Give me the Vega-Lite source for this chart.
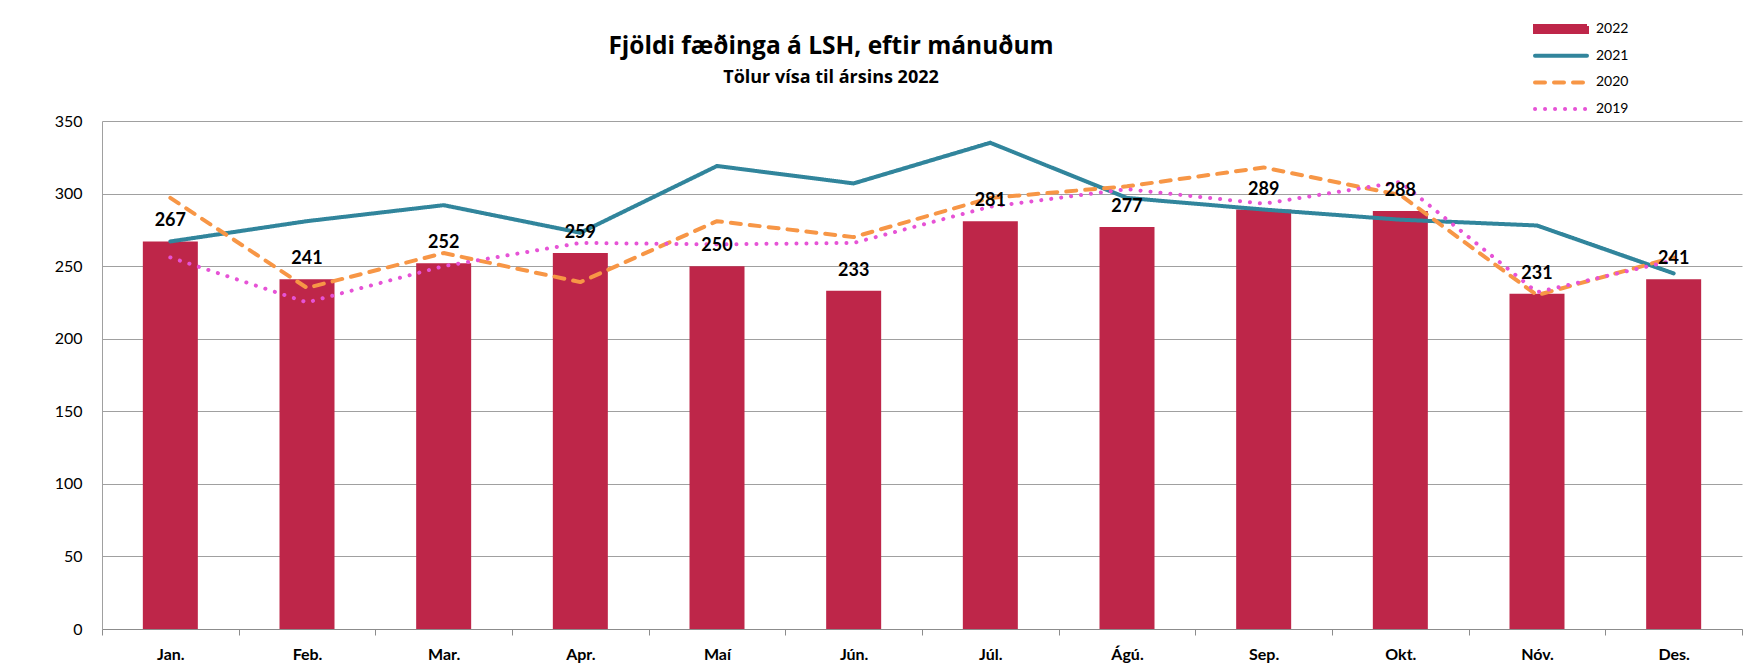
{
  "$schema": "https://vega.github.io/schema/vega-lite/v6.json",
  "autosize": "none",
  "width": 1640,
  "height": 508,
  "padding": {"left": 102, "top": 121, "right": 16, "bottom": 37},
  "background": "white",
  "title": {
    "text": "Fjöldi fæðinga á LSH, eftir mánuðum",
    "subtitle": "Tölur vísa til ársins 2022",
    "anchor": "middle",
    "frame": "group",
    "dx": -91,
    "offset": -66,
    "font": "Open Sans",
    "fontSize": 24.5,
    "fontWeight": "bold",
    "color": "black",
    "subtitleFont": "Open Sans",
    "subtitleFontSize": 18,
    "subtitleFontWeight": "bold",
    "subtitleColor": "black",
    "subtitlePadding": 10
  },
  "config": {
    "view": {"stroke": null},
    "font": "Lato"
  },
  "data": {
    "values": [
      {"month": "Jan.", "year": "2022", "value": 267},
      {"month": "Feb.", "year": "2022", "value": 241},
      {"month": "Mar.", "year": "2022", "value": 252},
      {"month": "Apr.", "year": "2022", "value": 259},
      {"month": "Maí", "year": "2022", "value": 250},
      {"month": "Jún.", "year": "2022", "value": 233},
      {"month": "Júl.", "year": "2022", "value": 281},
      {"month": "Ágú.", "year": "2022", "value": 277},
      {"month": "Sep.", "year": "2022", "value": 289},
      {"month": "Okt.", "year": "2022", "value": 288},
      {"month": "Nóv.", "year": "2022", "value": 231},
      {"month": "Des.", "year": "2022", "value": 241},
      {"month": "Jan.", "year": "2021", "value": 267},
      {"month": "Feb.", "year": "2021", "value": 281},
      {"month": "Mar.", "year": "2021", "value": 292},
      {"month": "Apr.", "year": "2021", "value": 273},
      {"month": "Maí", "year": "2021", "value": 319},
      {"month": "Jún.", "year": "2021", "value": 307},
      {"month": "Júl.", "year": "2021", "value": 335},
      {"month": "Ágú.", "year": "2021", "value": 297},
      {"month": "Sep.", "year": "2021", "value": 289},
      {"month": "Okt.", "year": "2021", "value": 282},
      {"month": "Nóv.", "year": "2021", "value": 278},
      {"month": "Des.", "year": "2021", "value": 245},
      {"month": "Jan.", "year": "2020", "value": 297},
      {"month": "Feb.", "year": "2020", "value": 235},
      {"month": "Mar.", "year": "2020", "value": 259},
      {"month": "Apr.", "year": "2020", "value": 239},
      {"month": "Maí", "year": "2020", "value": 281},
      {"month": "Jún.", "year": "2020", "value": 270},
      {"month": "Júl.", "year": "2020", "value": 297},
      {"month": "Ágú.", "year": "2020", "value": 305},
      {"month": "Sep.", "year": "2020", "value": 318},
      {"month": "Okt.", "year": "2020", "value": 299},
      {"month": "Nóv.", "year": "2020", "value": 230},
      {"month": "Des.", "year": "2020", "value": 256},
      {"month": "Jan.", "year": "2019", "value": 256},
      {"month": "Feb.", "year": "2019", "value": 225},
      {"month": "Mar.", "year": "2019", "value": 250},
      {"month": "Apr.", "year": "2019", "value": 266},
      {"month": "Maí", "year": "2019", "value": 265},
      {"month": "Jún.", "year": "2019", "value": 266},
      {"month": "Júl.", "year": "2019", "value": 291},
      {"month": "Ágú.", "year": "2019", "value": 303},
      {"month": "Sep.", "year": "2019", "value": 293},
      {"month": "Okt.", "year": "2019", "value": 308},
      {"month": "Nóv.", "year": "2019", "value": 232},
      {"month": "Des.", "year": "2019", "value": 254}
    ]
  },
  "encoding": {
    "x": {
      "field": "month",
      "type": "nominal",
      "sort": null,
      "scale": {"paddingInner": 0, "paddingOuter": 0},
      "axis": {
        "title": null,
        "labelAngle": 0,
        "labelFont": "Lato",
        "labelFontSize": 16,
        "labelFontWeight": "bold",
        "labelColor": "black",
        "labelPadding": 11,
        "tickBand": "extent",
        "tickSize": 6,
        "tickColor": "#8C8C8C",
        "domainColor": "#8C8C8C",
        "grid": false
      }
    },
    "y": {
      "field": "value",
      "type": "quantitative",
      "scale": {"domain": [0, 350], "nice": false},
      "axis": {
        "title": null,
        "values": [0, 50, 100, 150, 200, 250, 300, 350],
        "ticks": false,
        "labelPadding": 20,
        "labelFont": "Lato",
        "labelFontSize": 16,
        "labelColor": "black",
        "grid": true,
        "gridColor": "#A0A0A0",
        "domainColor": "#A0A0A0"
      }
    },
    "color": {
      "field": "year",
      "type": "nominal",
      "scale": {
        "domain": ["2022", "2021", "2020", "2019"],
        "range": ["#BE2649", "#31859C", "#F79646", "#E653D6"]
      },
      "legend": {
        "title": null,
        "orient": "none",
        "legendX": 1431,
        "legendY": -99,
        "padding": 0,
        "symbolType": "stroke",
        "symbolSize": 2704,
        "symbolStrokeWidth": 4,
        "clipHeight": 14,
        "labelFont": "Lato",
        "labelFontSize": 14,
        "labelColor": "black",
        "labelOffset": 7,
        "rowPadding": 12.7,
        "encode": {
          "symbols": {
            "update": {
              "shape": {"signal": "datum.value === '2022' ? 'M-1,-0.115H1V0.115H-1Z' : 'stroke'"},
              "stroke": {"scale": "color", "field": "value"},
              "fill": {"signal": "datum.value === '2022' ? scale('color', datum.value) : 'transparent'"},
              "strokeDash": {"signal": "datum.value === '2020' ? [10, 9] : (datum.value === '2019' ? [0.1, 9.9] : [1, 0])"},
              "strokeCap": {"signal": "datum.value === '2022' ? 'butt' : 'round'"},
              "strokeJoin": {"value": "miter"}
            }
          }
        }
      }
    }
  },
  "layer": [
    {
      "transform": [{"filter": "datum.year === '2022'"}],
      "mark": {"type": "bar", "size": 55}
    },
    {
      "transform": [{"filter": "datum.year !== '2022'"}],
      "mark": {"type": "line", "strokeWidth": 4, "strokeCap": "round", "strokeJoin": "round"},
      "encoding": {
        "strokeDash": {
          "field": "year",
          "type": "nominal",
          "scale": {
            "domain": ["2022", "2021", "2020", "2019"],
            "range": [[1, 0], [1, 0], [10, 9], [0.1, 9.9]]
          },
          "legend": null
        }
      }
    },
    {
      "transform": [{"filter": "datum.year === '2022'"}],
      "mark": {"type": "text", "font": "Lato", "fontSize": 18, "fontWeight": "bold", "baseline": "alphabetic", "dy": -15, "color": "black"},
      "encoding": {
        "text": {"field": "value", "type": "quantitative"},
        "color": {"value": "black"}
      }
    }
  ]
}
